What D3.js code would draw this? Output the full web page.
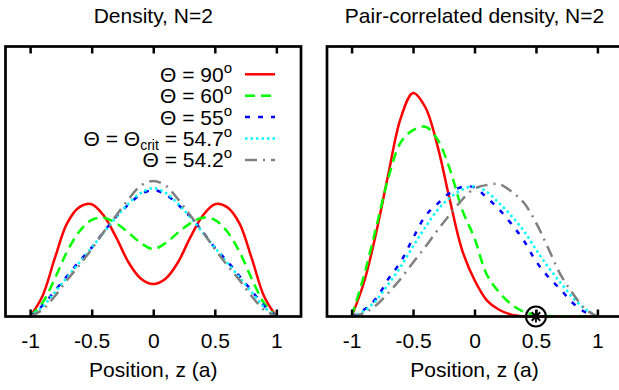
<!DOCTYPE html>
<html>
<head>
<meta charset="utf-8">
<script src="https://cdn.jsdelivr.net/npm/d3@7"></script>
<style>
  body { margin: 0; background: #fff; }
  svg { display: block; font-family: "Liberation Sans", Arial, sans-serif; }
</style>
</head>
<body>
<div id="chart"></div>
<script>
// positions along z (units of a)
const zGrid = [-1, -0.9, -0.8, -0.7, -0.6, -0.5, -0.4, -0.3, -0.2, -0.1, 0,
               0.1, 0.2, 0.3, 0.4, 0.5, 0.6, 0.7, 0.8, 0.9, 1];

// single particle density (arb. units)
const dens90  = [0, 0.075, 0.215, 0.345, 0.405, 0.416, 0.372, 0.292, 0.2, 0.14, 0.12,
                 0.14, 0.2, 0.292, 0.372, 0.416, 0.405, 0.345, 0.215, 0.075, 0];
const dens60  = [0, 0.05, 0.14, 0.24, 0.315, 0.358, 0.366, 0.345, 0.31, 0.272, 0.25,
                 0.272, 0.31, 0.345, 0.366, 0.358, 0.315, 0.24, 0.14, 0.05, 0];
const dens55  = [0, 0.04, 0.095, 0.15, 0.205, 0.255, 0.315, 0.37, 0.415, 0.452, 0.468,
                 0.452, 0.415, 0.37, 0.315, 0.255, 0.205, 0.15, 0.095, 0.04, 0];
const dens547 = [0, 0.035, 0.09, 0.145, 0.2, 0.255, 0.312, 0.368, 0.418, 0.458, 0.475,
                 0.458, 0.418, 0.368, 0.312, 0.255, 0.2, 0.145, 0.09, 0.035, 0];
const dens542 = [0, 0.025, 0.075, 0.135, 0.19, 0.25, 0.315, 0.375, 0.435, 0.485, 0.502,
                 0.485, 0.435, 0.375, 0.315, 0.25, 0.19, 0.135, 0.075, 0.025, 0];

// pair-correlated density, one particle fixed at z = 0.5
const pair90  = [0, 0.125, 0.31, 0.53, 0.735, 0.828, 0.775, 0.63, 0.43, 0.245, 0.135,
                 0.06, 0.025, 0.007, 0.001, 0, 0, 0, 0, 0, 0];
const pair60  = [0, 0.15, 0.33, 0.515, 0.645, 0.69, 0.703, 0.655, 0.545, 0.395, 0.29,
                 0.155, 0.09, 0.045, 0.018, 0.006, 0.002, 0.001, 0, 0, 0];
const pair55  = [0, 0.025, 0.067, 0.14, 0.203, 0.29, 0.372, 0.418, 0.458, 0.48, 0.478,
                 0.44, 0.397, 0.343, 0.282, 0.205, 0.147, 0.1, 0.05, 0.016, 0];
const pair547 = [0, 0.02, 0.06, 0.12, 0.185, 0.26, 0.33, 0.395, 0.44, 0.47, 0.482,
                 0.462, 0.42, 0.373, 0.318, 0.248, 0.183, 0.125, 0.07, 0.028, 0];
const pair542 = [0, 0.012, 0.042, 0.088, 0.14, 0.2, 0.258, 0.32, 0.378, 0.433, 0.474,
                 0.487, 0.49, 0.463, 0.422, 0.348, 0.253, 0.155, 0.085, 0.028, 0];

const thetaLabels = ["90", "60", "55", "54.7", "54.2"];
const xTicks = [-1, -0.5, 0, 0.5, 1];
const fixedParticle = [0.5];

const styles = [
  {color: "#ff0000", dash: null},
  {color: "#00ff00", dash: "10,6"},
  {color: "#0000ff", dash: "5,8"},
  {color: "#00ffff", dash: "2.5,3"},
  {color: "#808080", dash: "12,6,2,6"}
];

const W = 619, H = 390;
const svg = d3.select("#chart").append("svg")
  .attr("width", W).attr("height", H);

function drawPanel(opts) {
  const top = 46.5, bottom = 316.5;
  const x = d3.scaleLinear().domain([-1.2, 1.2]).range([opts.left, opts.right]);
  const y = d3.scaleLinear().domain([0, 1]).range([bottom, top]);
  const g = svg.append("g");

  const line = d3.line()
    .x((d, i) => x(zGrid[i]))
    .y(d => y(d))
    .curve(d3.curveCatmullRom.alpha(0.5));

  // curves (drawn in legend order)
  opts.series.forEach((s, i) => {
    g.append("path")
      .attr("d", line(s))
      .attr("fill", "none")
      .attr("stroke", styles[i].color)
      .attr("stroke-width", 2.5)
      .attr("stroke-dasharray", styles[i].dash);
  });

  // x axes, ticks pointing inwards at top and bottom
  const xb = g.append("g")
    .attr("transform", "translate(0," + bottom + ")")
    .call(d3.axisBottom(x).tickValues(xTicks).tickSizeInner(-7).tickSizeOuter(0)
      .tickPadding(17).tickFormat(d => String(d)));
  const xt = g.append("g")
    .attr("transform", "translate(0," + top + ")")
    .call(d3.axisTop(x).tickValues(xTicks).tickSizeInner(-7).tickSizeOuter(0)
      .tickFormat(""));
  [xb, xt].forEach(a => {
    a.select(".domain").remove();
    a.selectAll("line").attr("stroke", "#000").attr("stroke-width", 2.5);
  });
  xb.selectAll("text")
    .attr("fill", "#000")
    .style("font-size", "21px")
    .style("font-family", "Liberation Sans, Arial, sans-serif");

  g.append("rect")
    .attr("x", opts.left).attr("y", top)
    .attr("width", opts.right - opts.left).attr("height", bottom - top)
    .attr("fill", "none").attr("stroke", "#000").attr("stroke-width", 2.7);

  g.append("text")
    .attr("x", x(0)).attr("y", 22.5)
    .attr("text-anchor", "middle")
    .style("font-size", "21px")
    .text(opts.title);

  g.append("text")
    .attr("x", x(0)).attr("y", 377)
    .attr("text-anchor", "middle")
    .style("font-size", "21px")
    .text("Position, z (a)");

  return {x, y, g};
}

const left = drawPanel({
  left: 5.5, right: 301,
  title: "Density, N=2",
  series: [dens90, dens60, dens55, dens547, dens542]
});

const right = drawPanel({
  left: 327, right: 622,
  title: "Pair-correlated density, N=2",
  series: [pair90, pair60, pair55, pair547, pair542]
});

// legend in the left panel
const legend = left.g.append("g");
thetaLabels.forEach((lab, i) => {
  const ry = 74.3 + i * 21.4;
  const t = legend.append("text")
    .attr("x", 232).attr("y", ry + 7.5)
    .attr("text-anchor", "end")
    .style("font-size", "21px");
  t.append("tspan").text("\u0398 = ");
  if (i === 3) {
    t.append("tspan").text("\u0398");
    t.append("tspan").attr("dy", 4).style("font-size", "14px").text("crit");
    t.append("tspan").attr("dy", -4).text(" = ");
  }
  t.append("tspan").text(lab);
  t.append("tspan").attr("dy", -9).style("font-size", "15px").text("o");

  legend.append("line")
    .attr("x1", 245).attr("x2", 275)
    .attr("y1", ry).attr("y2", ry)
    .attr("stroke", styles[i].color)
    .attr("stroke-width", 2.5)
    .attr("stroke-dasharray", styles[i].dash);
});

// fixed particle marker (circled asterisk)
fixedParticle.forEach(zp => {
  const cx = right.x(zp), cy = right.y(0);
  const m = right.g.append("g").attr("transform", "translate(" + cx + "," + cy + ")");
  m.append("circle").attr("r", 10).attr("fill", "none")
    .attr("stroke", "#000").attr("stroke-width", 2);
  [0, 45, 90, 135].forEach(a => {
    m.append("line")
      .attr("x1", -6).attr("x2", 6).attr("y1", 0).attr("y2", 0)
      .attr("transform", "rotate(" + a + ")")
      .attr("stroke", "#000").attr("stroke-width", 1.8);
  });
});
</script>
</body>
</html>
